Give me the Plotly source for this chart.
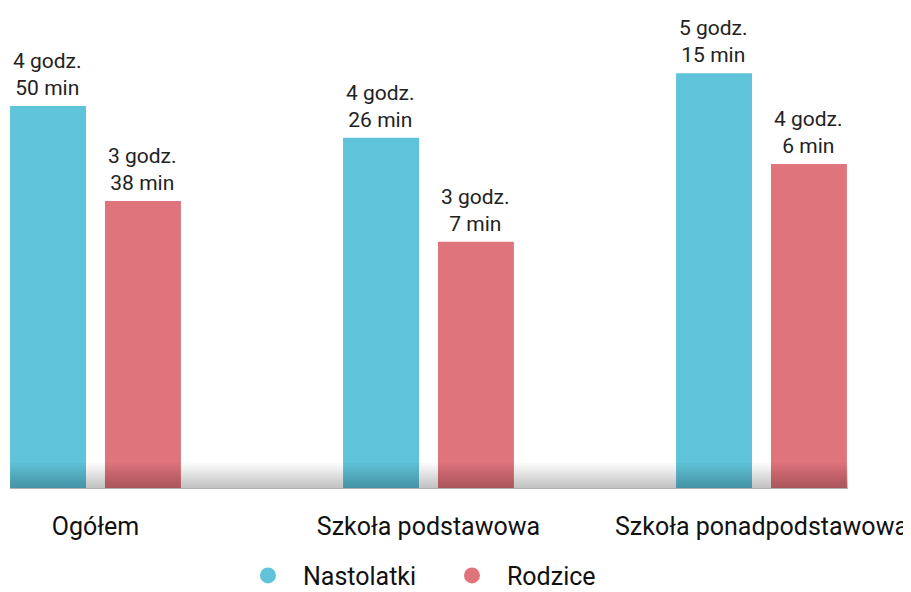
import plotly.graph_objects as go

categories = ["Ogółem", "Szkoła podstawowa", "Szkoła ponadpodstawowa"]
nastolatki = [290, 266, 315]   # minutes
rodzice = [218, 187, 246]
nastolatki_labels = ["4 godz.<br>50 min", "4 godz.<br>26 min", "5 godz.<br>15 min"]
rodzice_labels = ["3 godz.<br>38 min", "3 godz.<br>7 min", "4 godz.<br>6 min"]

blue = "rgb(95,195,217)"
red = "rgb(224,116,124)"
font_family = "Roboto"

fig = go.Figure()
fig.add_trace(go.Bar(x=categories, y=nastolatki, name="Nastolatki",
                     marker_color=blue, showlegend=False))
fig.add_trace(go.Bar(x=categories, y=rodzice, name="Rodzice",
                     marker_color=red, showlegend=False))
fig.update_traces(marker_line_width=0)

# value labels above bars (group offset of +-47.5px)
for vals, labels, shift in [(nastolatki, nastolatki_labels, -47.5),
                            (rodzice, rodzice_labels, 47.5)]:
    for cat, v, lab in zip(categories, vals, labels):
        fig.add_annotation(x=cat, y=v, text=lab, showarrow=False,
                           xshift=shift, yanchor="bottom", yshift=4,
                           font=dict(size=21, color="#222222"))

# circle legend entries
for name, col in [("Nastolatki", blue), ("Rodzice", red)]:
    fig.add_trace(go.Scatter(x=[None], y=[None], mode="markers", name=name,
                             marker=dict(symbol="circle", size=18, color=col)))

# soft shadow at the base of the plot
steps = 12
for i in range(steps):
    h = 0.052 * (steps - i) / steps
    fig.add_shape(type="rect", xref="paper", yref="y domain",
                  x0=0, x1=1, y0=0, y1=h, layer="above",
                  line_width=0, fillcolor="rgba(0,0,0,0.018)")

# page body has an 8px margin, so the figure is drawn 8px smaller
fig.update_layout(
    width=903, height=584,
    margin=dict(l=2, r=63, t=0, b=104),
    barmode="group", bargap=0.43, bargroupgap=0.2,
    plot_bgcolor="white", paper_bgcolor="white",
    font=dict(family=font_family, size=25, color="#111111"),
    showlegend=True,
    legend=dict(orientation="h", x=0.5095, xanchor="center",
                yref="container", y=0.028, yanchor="middle",
                font=dict(size=25, color="#111111"),
                itemwidth=60, entrywidth=129),
)
fig.update_xaxes(range=[-0.2567, 2.2598], showline=True, linecolor="#b0b0b0",
                 linewidth=1, ticks="", ticklabelstandoff=16,
                 tickfont=dict(size=25, color="#111111"))
fig.update_yaxes(range=[0, 364.5], visible=False, showgrid=False)

fig.write_html("out.html")
